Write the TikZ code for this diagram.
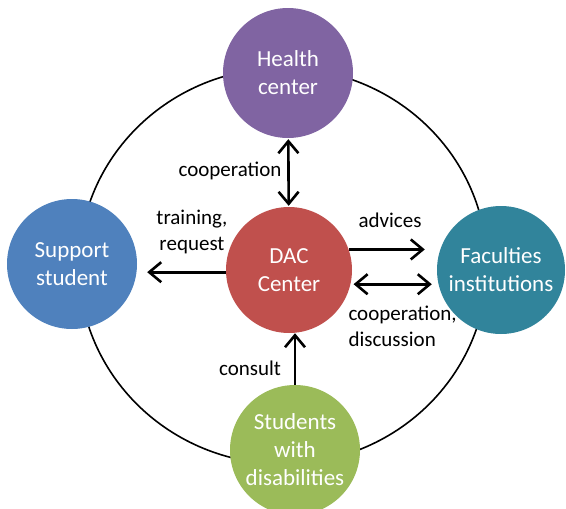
\documentclass[tikz,border=0pt]{standalone}
\usepackage{fontspec}
\setmainfont{Carlito}
\usepackage{tikz}
\usetikzlibrary{arrows.meta}
\definecolor{healthc}{HTML}{8064A2}
\definecolor{supportc}{HTML}{4F81BD}
\definecolor{dacc}{HTML}{C0504D}
\definecolor{facc}{HTML}{31849B}
\definecolor{studc}{HTML}{9BBB59}
\tikzstyle{unit} = [circle,minimum size=130pt,inner sep=0pt,align=center,text=white,font=\fontsize{23}{28}\selectfont]
\tikzstyle{arrow} = [line width=2.6pt,-{Straight Barb[length=12pt,width=20pt]}]
\tikzstyle{dblarrow} = [line width=2.6pt,{Straight Barb[length=12pt,width=20pt]}-{Straight Barb[length=12pt,width=20pt]}]
\tikzstyle{lbl} = [align=center,font=\fontsize{21}{26}\selectfont]

\begin{document}
\begin{tikzpicture}[x=1pt,y=-1pt]
\useasboundingbox (0,0) rectangle (566,509);

% --- ring ---
\draw[line width=1.6pt] (283,266) ellipse [x radius=204pt, y radius=198pt];

% --- units ---
\node[unit,fill=healthc] (health) at (288,73) {Health\\center};
\node[unit,fill=supportc] (support) at (72,264) {Support\\student};
\node[unit,fill=dacc,minimum size=126pt] (dac) at (289,270) {DAC\\Center};
\node[unit,fill=facc,minimum size=128pt] (fac) at (501,270) {Faculties\\institutions};
\node[unit,fill=studc] (stud) at (295,450) {Students\\with\\disabilities};

% --- labels ---
\node[lbl] (coop1) at (230,171) {cooperation};
\node[lbl] (train) at (192,232) {training,\\request};
\node[lbl] (adv) at (390,220) {advices};
\node[lbl,align=left,anchor=west] (coop2) at (345,326) {cooperation,\\discussion};
\node[lbl] (cons) at (250,368) {consult};

% --- connections ---
\draw[dblarrow,shorten <=1pt,shorten >=1pt] (health) -- (dac);
\draw[arrow,shorten >=10pt] (dac.182) -- (dac.182 -| support.east);
\draw[arrow,shorten >=12pt] (dac.19) -- (dac.19 -| fac.west);
\draw[dblarrow,shorten <=3pt,shorten >=5pt] (dac.-13) -- (dac.-13 -| fac.west);
\draw[arrow] (stud.north) -- (stud.north |- dac.south);

\end{tikzpicture}
\end{document}
